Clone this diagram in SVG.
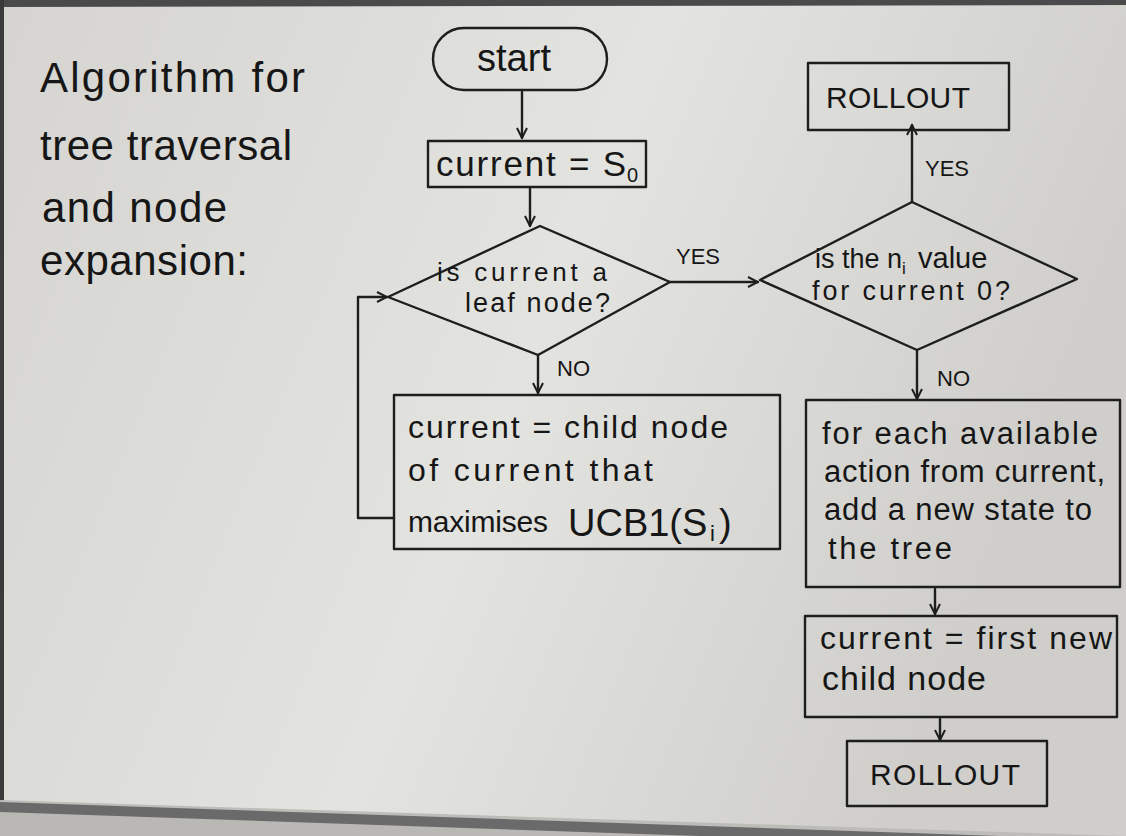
<svg xmlns="http://www.w3.org/2000/svg" width="1126" height="836" viewBox="0 0 1126 836">
<defs>
<linearGradient id="board" x1="0" y1="0" x2="1" y2="0.3">
<stop offset="0" stop-color="#d5d4d0"/>
<stop offset="0.55" stop-color="#e3e3df"/>
<stop offset="1" stop-color="#cfcecb"/>
</linearGradient>
<marker id="arr" viewBox="0 0 12 12" refX="11" refY="6" markerWidth="12" markerHeight="12" markerUnits="userSpaceOnUse" orient="auto">
<path d="M1,1 L11,6 L1,11" fill="none" stroke="#1e1e1e" stroke-width="2"/>
</marker>
<style>
.ln{fill:none;stroke:#1e1e1e;stroke-width:2.4;stroke-linejoin:round;stroke-linecap:round}
.tx{font-family:"Liberation Sans","DejaVu Sans",sans-serif;fill:#161616}
.lb{font-family:"Liberation Sans","DejaVu Sans",sans-serif;fill:#161616;font-size:22px}
</style>
</defs>
<rect x="0" y="0" width="1126" height="836" fill="url(#board)"/>
<polygon points="0,0 1126,0 1126,5 0,7" fill="#4a4a4a"/>
<rect x="0" y="0" width="4" height="836" fill="#3a3a3a"/>
<polygon points="0,800 1126,836 0,836" fill="#bdbcb9"/>
<polygon points="0,802 1000,836 0,836" fill="#6a6a6a"/>
<polygon points="0,812 700,836 0,836" fill="#b9b8b5"/>

<g id="title" class="tx" font-size="42">
<text x="40" y="92" textLength="265" lengthAdjust="spacing">Algorithm for</text>
<text x="40" y="160" textLength="252" lengthAdjust="spacing">tree traversal</text>
<text x="42" y="222" textLength="185" lengthAdjust="spacing">and node</text>
<text x="40" y="275" textLength="208" lengthAdjust="spacing">expansion:</text>
</g>

<g id="connectors">
<line class="ln" x1="522" y1="92" x2="522" y2="138" marker-end="url(#arr)"/>
<line class="ln" x1="530" y1="188" x2="530" y2="226" marker-end="url(#arr)"/>
<line class="ln" x1="538" y1="355" x2="538" y2="393" marker-end="url(#arr)"/>
<polyline class="ln" points="394,518 358,518 358,297 387,297" marker-end="url(#arr)"/>
<line class="ln" x1="670" y1="282" x2="758" y2="282" marker-end="url(#arr)"/>
<line class="ln" x1="912" y1="202" x2="912" y2="125" marker-end="url(#arr)"/>
<line class="ln" x1="917" y1="350" x2="917" y2="399" marker-end="url(#arr)"/>
<line class="ln" x1="935" y1="589" x2="935" y2="614" marker-end="url(#arr)"/>
<line class="ln" x1="940" y1="719" x2="940" y2="740" marker-end="url(#arr)"/>
<text class="lb" x="557" y="376" font-size="21">NO</text>
<text class="lb" x="676" y="264" font-size="24">YES</text>
<text class="lb" x="925" y="176" font-size="27">YES</text>
<text class="lb" x="937" y="386" font-size="24">NO</text>
</g>

<g id="start">
<rect class="ln" x="433" y="28" width="174" height="62" rx="31"/>
<text class="tx" x="514" y="71" font-size="38" text-anchor="middle">start</text>
</g>

<g id="init">
<rect class="ln" x="428" y="141" width="218" height="46"/>
<text class="tx" x="436" y="176" font-size="35" textLength="190" lengthAdjust="spacing">current = S</text><text class="tx" x="627" y="182" font-size="20">0</text>
</g>

<g id="leaf">
<polygon class="ln" points="540,226 670,282 538,355 388,297"/>
<text class="tx" x="437" y="281" font-size="26" textLength="170" lengthAdjust="spacing">is current a</text>
<text class="tx" x="465" y="312" font-size="27" textLength="145" lengthAdjust="spacing">leaf node?</text>
</g>

<g id="select">
<rect class="ln" x="394" y="395" width="386" height="154"/>
<text class="tx" x="408" y="438" font-size="32" textLength="320" lengthAdjust="spacing">current = child node</text>
<text class="tx" x="408" y="481" font-size="32" textLength="245" lengthAdjust="spacing">of current that</text>
<text class="tx" x="408" y="532" font-size="30" textLength="140" lengthAdjust="spacing">maximises</text>
<text class="tx" x="568" y="536" font-size="38">UCB1(S</text><text class="tx" x="710" y="541" font-size="22">i</text><text class="tx" x="719" y="536" font-size="38">)</text>
</g>

<g id="visited">
<polygon class="ln" points="912,202 1077,279 917,350 760,280"/>
<text class="tx" x="815" y="268" font-size="27">is the n</text><text class="tx" x="902" y="274" font-size="17">i</text><text class="tx" x="918" y="268" font-size="29">value</text>
<text class="tx" x="812" y="300" font-size="27" textLength="198" lengthAdjust="spacing">for current 0?</text>
</g>

<g id="rollout1">
<rect class="ln" x="808" y="63" width="201" height="67"/>
<text class="tx" x="826" y="108" font-size="30" textLength="144" lengthAdjust="spacing">ROLLOUT</text>
</g>

<g id="expand">
<rect class="ln" x="806" y="400" width="314" height="187"/>
<text class="tx" x="822" y="444" font-size="31" textLength="276" lengthAdjust="spacing">for each available</text>
<text class="tx" x="824" y="482" font-size="31" textLength="281" lengthAdjust="spacing">action from current,</text>
<text class="tx" x="824" y="520" font-size="31" textLength="268" lengthAdjust="spacing">add a new state to</text>
<text class="tx" x="828" y="559" font-size="31" textLength="124" lengthAdjust="spacing">the tree</text>
</g>

<g id="first">
<rect class="ln" x="805" y="616" width="312" height="101"/>
<text class="tx" x="820" y="649" font-size="32" textLength="292" lengthAdjust="spacing">current = first new</text>
<text class="tx" x="822" y="690" font-size="34" textLength="164" lengthAdjust="spacing">child node</text>
</g>

<g id="rollout2">
<rect class="ln" x="847" y="741" width="200" height="65"/>
<text class="tx" x="870" y="785" font-size="30" textLength="150" lengthAdjust="spacing">ROLLOUT</text>
</g>
</svg>
